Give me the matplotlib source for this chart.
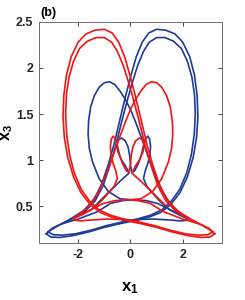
import matplotlib
matplotlib.use("Agg")
import matplotlib.pyplot as plt

plt.rcParams['font.family'] = ['Liberation Sans', 'DejaVu Sans']
plt.rcParams['mathtext.fontset'] = 'custom'
plt.rcParams['mathtext.rm'] = 'Liberation Sans'
plt.rcParams['mathtext.bf'] = 'Liberation Sans:bold'

# blue orbit in pieces (x1, x3)
blue_big_outer_x = [-3.22, -3.05, -2.7, -2.2, -1.6, -1.0, -0.4, 0.2, 0.7, 1.15, 1.55, 1.9, 2.18, 2.4, 2.53, 2.58,
                    2.55, 2.45, 2.27, 2.0, 1.7, 1.35, 1.0, 0.7, 0.45, 0.22, 0.02, -0.2, -0.42, -0.62, -0.85, -1.1,
                    -1.4, -1.8, -2.3, -2.75, -3.05, -3.22]
blue_big_outer_y = [0.20, 0.165, 0.16, 0.18, 0.22, 0.27, 0.31, 0.345, 0.38, 0.43, 0.52, 0.65, 0.82, 1.03, 1.25, 1.47,
                    1.7, 1.92, 2.12, 2.28, 2.37, 2.41, 2.42, 2.38, 2.28, 2.12, 1.92, 1.68, 1.42, 1.18, 0.95, 0.74,
                    0.57, 0.45, 0.36, 0.29, 0.24, 0.20]
blue_big_inner_x = [-3.15, -2.95, -2.6, -2.1, -1.5, -0.9, -0.3, 0.25, 0.75, 1.2, 1.55, 1.88, 2.15, 2.33, 2.44, 2.48,
                    2.45, 2.35, 2.18, 1.95, 1.65, 1.32, 1.0, 0.72, 0.5, 0.28, 0.08, -0.14, -0.36, -0.57, -0.8, -1.05,
                    -1.35, -1.75, -2.25, -2.7, -3.0, -3.15]
blue_big_inner_y = [0.22, 0.19, 0.185, 0.2, 0.24, 0.29, 0.33, 0.36, 0.40, 0.46, 0.55, 0.68, 0.86, 1.06, 1.28, 1.5,
                    1.71, 1.9, 2.07, 2.21, 2.29, 2.33, 2.33, 2.28, 2.18, 2.03, 1.85, 1.63, 1.39, 1.15, 0.93, 0.72,
                    0.56, 0.44, 0.36, 0.30, 0.26, 0.22]
blue_small_x = [0.0, -0.4, -0.85, -1.2, -1.45, -1.57, -1.62, -1.6, -1.52, -1.38, -1.2, -1.0, -0.8, -0.6, -0.4,
                -0.2, 0.0, 0.2, 0.45, 0.7, 0.95, 1.25, 1.6, 1.95, 2.12, 2.18, 2.1, 1.9, 1.5, 0.9, 0.3, -0.3]
blue_small_y = [0.57, 0.58, 0.66, 0.8, 0.98, 1.12, 1.28, 1.43, 1.58, 1.7, 1.79, 1.84, 1.85, 1.82, 1.75,
                1.66, 1.55, 1.41, 1.22, 1.02, 0.83, 0.64, 0.5, 0.41, 0.38, 0.36, 0.345, 0.34, 0.35, 0.36, 0.355, 0.34]
blue_arch_x = [-2.6, -2.0, -1.26, -0.76, -0.3, 0.11, 0.6, 1.03, 1.6, 1.95, 2.17]
blue_arch_y = [0.31, 0.36, 0.44, 0.53, 0.56, 0.57, 0.56, 0.53, 0.45, 0.40, 0.37]
blue_loops_x = [-1.33, -0.8, -0.4, -0.05, -0.2, -0.36, -0.48, -0.52, -0.46, -0.34, -0.2, -0.09, -0.03, 0.0, 0.05,
                0.15, 0.3, 0.42, 0.5, 0.58, 0.66, 0.73, 0.77, 0.74, 0.66, 0.56, 0.5, 0.62, 0.85, 1.1, 1.5, 1.9, 2.15]
blue_loops_y = [0.51, 0.66, 0.77, 0.86, 0.94, 1.01, 1.09, 1.17, 1.22, 1.24, 1.21, 1.14, 1.05, 0.95, 0.87,
                0.88, 0.96, 1.06, 1.16, 1.23, 1.26, 1.23, 1.15, 1.05, 0.96, 0.88, 0.8, 0.72, 0.64, 0.56, 0.46, 0.40, 0.37]

# red orbit (mirror image of the blue one)
red_big_outer_x = [3.22, 3.05, 2.7, 2.2, 1.6, 1.0, 0.4, -0.2, -0.7, -1.15, -1.55, -1.9, -2.18, -2.4, -2.53, -2.58,
                   -2.55, -2.45, -2.27, -2.0, -1.7, -1.35, -1.0, -0.7, -0.45, -0.22, -0.02, 0.2, 0.42, 0.62, 0.85, 1.1,
                   1.4, 1.8, 2.3, 2.75, 3.05, 3.22]
red_big_outer_y = [0.20, 0.165, 0.16, 0.18, 0.22, 0.27, 0.31, 0.345, 0.38, 0.43, 0.52, 0.65, 0.82, 1.03, 1.25, 1.47,
                   1.7, 1.92, 2.12, 2.28, 2.37, 2.41, 2.42, 2.38, 2.28, 2.12, 1.92, 1.68, 1.42, 1.18, 0.95, 0.74,
                   0.57, 0.45, 0.36, 0.29, 0.24, 0.20]
red_big_inner_x = [3.15, 2.95, 2.6, 2.1, 1.5, 0.9, 0.3, -0.25, -0.75, -1.2, -1.55, -1.88, -2.15, -2.33, -2.44, -2.48,
                   -2.45, -2.35, -2.18, -1.95, -1.65, -1.32, -1.0, -0.72, -0.5, -0.28, -0.08, 0.14, 0.36, 0.57, 0.8, 1.05,
                   1.35, 1.75, 2.25, 2.7, 3.0, 3.15]
red_big_inner_y = [0.22, 0.19, 0.185, 0.2, 0.24, 0.29, 0.33, 0.36, 0.40, 0.46, 0.55, 0.68, 0.86, 1.06, 1.28, 1.5,
                   1.71, 1.9, 2.07, 2.21, 2.29, 2.33, 2.33, 2.28, 2.18, 2.03, 1.85, 1.63, 1.39, 1.15, 0.93, 0.72,
                   0.56, 0.44, 0.36, 0.30, 0.26, 0.22]
red_small_x = [0.0, 0.4, 0.85, 1.2, 1.45, 1.57, 1.62, 1.6, 1.52, 1.38, 1.2, 1.0, 0.8, 0.6, 0.4,
               0.2, 0.0, -0.2, -0.45, -0.7, -0.95, -1.25, -1.6, -1.95, -2.12, -2.18, -2.1, -1.9, -1.5, -0.9, -0.3, 0.3]
red_small_y = [0.57, 0.58, 0.66, 0.8, 0.98, 1.12, 1.28, 1.43, 1.58, 1.7, 1.79, 1.84, 1.85, 1.82, 1.75,
               1.66, 1.55, 1.41, 1.22, 1.02, 0.83, 0.64, 0.5, 0.41, 0.38, 0.36, 0.345, 0.34, 0.35, 0.36, 0.355, 0.34]
red_arch_x = [2.6, 2.0, 1.26, 0.76, 0.3, -0.11, -0.6, -1.03, -1.6, -1.95, -2.17]
red_arch_y = [0.31, 0.36, 0.44, 0.53, 0.56, 0.57, 0.56, 0.53, 0.45, 0.40, 0.37]
red_loops_x = [1.33, 0.8, 0.4, 0.05, 0.2, 0.36, 0.48, 0.52, 0.46, 0.34, 0.2, 0.09, 0.03, 0.0, -0.05,
               -0.15, -0.3, -0.42, -0.5, -0.58, -0.66, -0.73, -0.77, -0.74, -0.66, -0.56, -0.5, -0.62, -0.85, -1.1,
               -1.5, -1.9, -2.15]
red_loops_y = [0.51, 0.66, 0.77, 0.86, 0.94, 1.01, 1.09, 1.17, 1.22, 1.24, 1.21, 1.14, 1.05, 0.95, 0.87,
               0.88, 0.96, 1.06, 1.16, 1.23, 1.26, 1.23, 1.15, 1.05, 0.96, 0.88, 0.8, 0.72, 0.64, 0.56, 0.46, 0.40, 0.37]

blue_pieces = [(blue_big_outer_x, blue_big_outer_y), (blue_big_inner_x, blue_big_inner_y),
               (blue_small_x, blue_small_y), (blue_arch_x, blue_arch_y), (blue_loops_x, blue_loops_y)]
red_pieces = [(red_big_outer_x, red_big_outer_y), (red_big_inner_x, red_big_inner_y),
              (red_small_x, red_small_y), (red_arch_x, red_arch_y), (red_loops_x, red_loops_y)]

x_ticks = [-2, 0, 2]
y_ticks = [0.5, 1, 1.5, 2, 2.5]

fig = plt.figure(figsize=(2.45, 3.0), dpi=100)
ax = fig.add_axes([0.159, 0.19, 0.747, 0.737])

for xs, ys in blue_pieces:
    ax.plot(xs, ys, color='#1f3a96', lw=1.2, solid_joinstyle='round')
for xs, ys in red_pieces:
    ax.plot(xs, ys, color='#f01414', lw=1.2, solid_joinstyle='round')

ax.set_xlim(-3.5, 3.5)
ax.set_ylim(0.1, 2.5)
ax.set_xticks(x_ticks)
ax.set_yticks(y_ticks)
ax.set_xticklabels([str(v) for v in x_ticks], fontsize=9, fontweight='bold')
ax.set_yticklabels(['0.5', '1', '1.5', '2', '2.5'], fontsize=9, fontweight='bold')
ax.tick_params(direction='in', top=True, right=True, length=3, width=0.6, colors='#262626', pad=4)
for s in ax.spines.values():
    s.set_color('#6e6e6e')
    s.set_linewidth(0.7)

ax.set_xlabel(r'$\mathbf{x_1}$', fontsize=12)
ax.set_ylabel(r'$\mathbf{x_3}$', fontsize=11.5)
ax.xaxis.set_label_coords(0.497, -0.17)
ax.yaxis.set_label_coords(-0.13, 0.5)
fig.text(0.165, 0.957, '(b)', fontsize=9, fontweight='bold', va='center', ha='left')

fig.savefig('out.png', dpi=100)
